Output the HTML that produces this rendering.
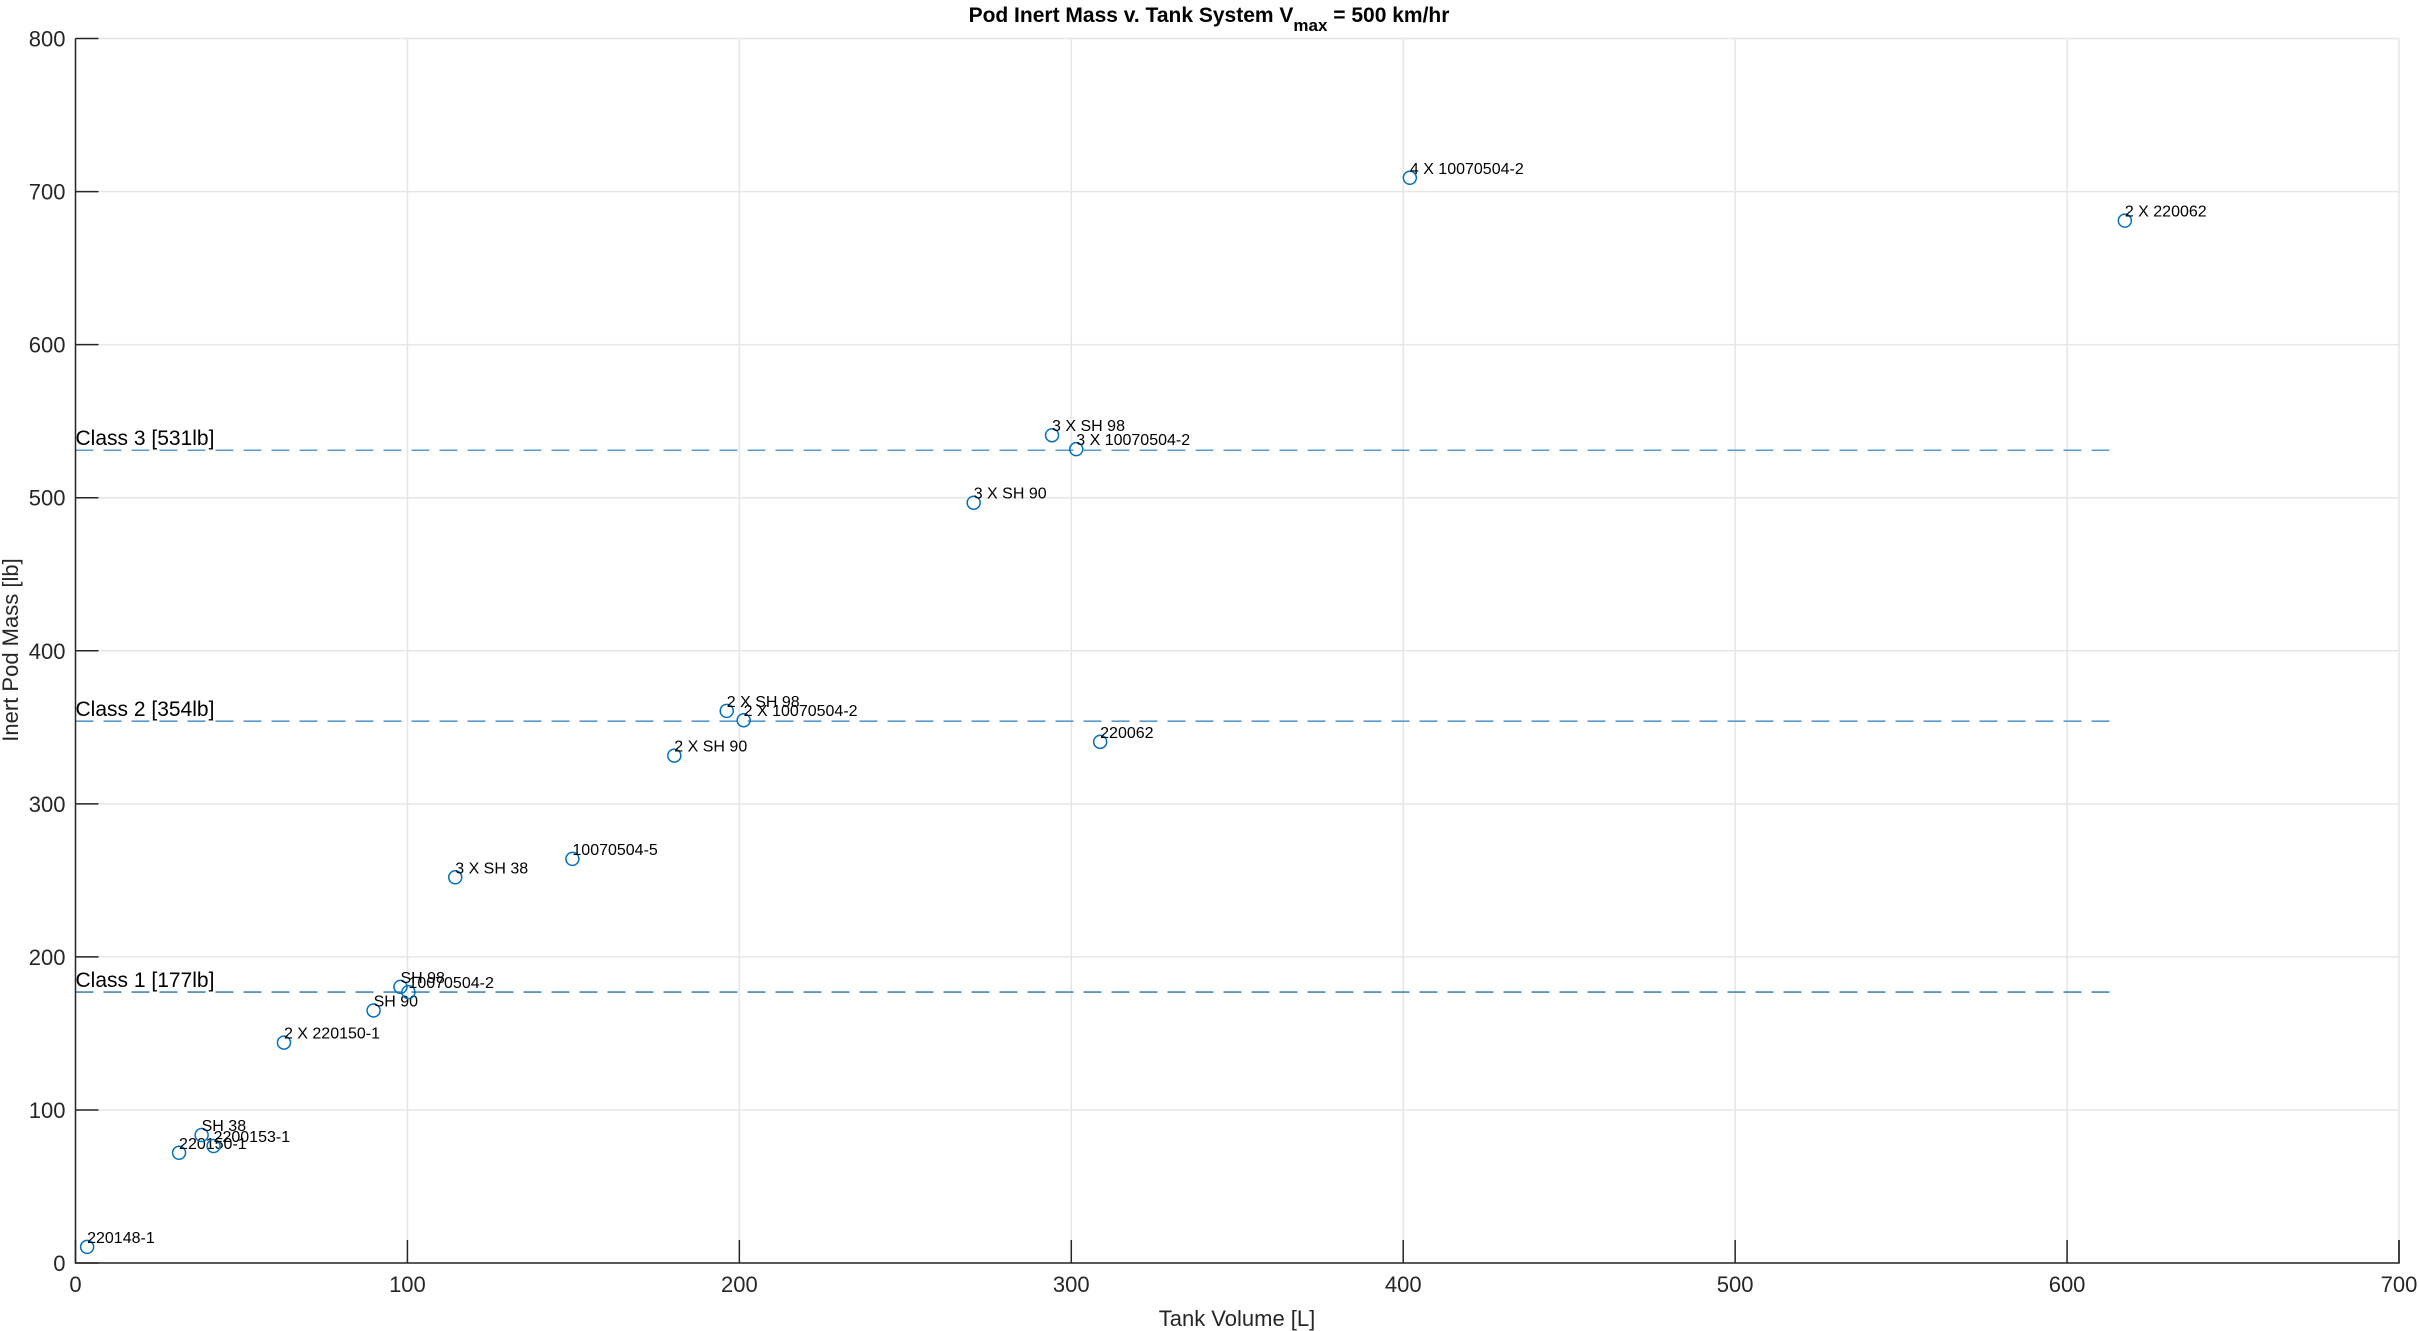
<!DOCTYPE html>
<html><head><meta charset="utf-8"><style>
html,body{margin:0;padding:0;background:#fff;}
svg{display:block;font-family:"Liberation Sans",Arial,sans-serif;}
</style></head><body>
<svg id="chart" width="2419" height="1331" viewBox="0 0 2419 1331">
<rect width="2419" height="1331" fill="#fff"/>
<g id="grid"></g>
<g id="classes"></g>
<g id="points"></g>
<g id="axes"></g>
<text x="1209" y="22" text-anchor="middle" font-size="21" font-weight="bold" fill="#000">Pod Inert Mass v. Tank System V<tspan font-size="17" dy="9">max</tspan><tspan dy="-9"> = 500 km/hr</tspan></text>
<text x="1237" y="1326" text-anchor="middle" font-size="22" fill="#262626">Tank Volume [L]</text>
<text transform="translate(18,650) rotate(-90)" text-anchor="middle" font-size="22" fill="#262626">Inert Pod Mass [lb]</text>
</svg>
<script>
const names = ["220148-1","220150-1","SH 38","2200153-1","2 X 220150-1","SH 90","SH 98","10070504-2","3 X SH 38","10070504-5","2 X SH 90","2 X SH 98","2 X 10070504-2","220062","3 X SH 90","3 X SH 98","3 X 10070504-2","4 X 10070504-2","2 X 220062"];
const volumes = [3.5,31.2,38,41.6,62.8,89.8,97.9,100.3,114.4,149.7,180.4,196.2,201.3,308.7,270.6,294.2,301.5,402,617.4];
const masses = [10.5,72,83.6,76.4,144,165,180.4,177,252,264,331.5,360.7,354.6,340.5,496.7,540.8,531.7,709,681];
const classNames = ["Class 1 [177lb]","Class 2 [354lb]","Class 3 [531lb]"];
const classValues = [177,354,531];
const classEnd = 615;
const xTicks = [0,100,200,300,400,500,600,700];
const yTicks = [0,100,200,300,400,500,600,700,800];

const NS="http://www.w3.org/2000/svg";
const L=75.5,R=2399,T=38.5,B=1263;
const xs=v=>L+(v-0)/(700-0)*(R-L);
const ys=v=>B-(v-0)/(800-0)*(B-T);
function mk(tag,attrs,parent){const e=document.createElementNS(NS,tag);for(const k in attrs)e.setAttribute(k,attrs[k]);parent.appendChild(e);return e;}
const grid=document.getElementById('grid'),axes=document.getElementById('axes'),cls=document.getElementById('classes'),pts=document.getElementById('points');
xTicks.forEach(t=>{
  const x=xs(t);
  const g=mk('line',{x1:x,x2:x,y1:T,y2:B,stroke:'#e6e6e6','stroke-width':1.5},grid);
  
  
  const tk=mk('line',{x1:x,x2:x,y1:B,y2:B-23,stroke:'#262626','stroke-width':1.5},axes);
  
  
  const lb=mk('text',{x:x,y:B+29,'text-anchor':'middle','font-size':22,fill:'#262626'},axes);
  lb.textContent=t;
  
  
});
yTicks.forEach(t=>{
  const y=ys(t);
  const g=mk('line',{x1:L,x2:R,y1:y,y2:y,stroke:'#e6e6e6','stroke-width':1.5},grid);
  
  
  const tk=mk('line',{x1:L,x2:L+23,y1:y,y2:y,stroke:'#262626','stroke-width':1.5},axes);
  
  
  const lb=mk('text',{x:L-10,y:y+8,'text-anchor':'end','font-size':22,fill:'#262626'},axes);
  lb.textContent=t;
  
  
});
const ax=mk('path',{d:`M${L},${T}V${B}H${R}V${B-23}`,fill:'none',stroke:'#262626','stroke-width':1.5},axes);


const clsColors=['#4a86b8','#5a9bd0','#5a9bd0'];
classValues.forEach((v,i)=>{
  const y=ys(v);
  const ln=mk('line',{x1:L,x2:xs(classEnd),y1:y,y2:y,stroke:clsColors[i],'stroke-width':1.6,'stroke-dasharray':'18,10'},cls);
  
  
  const tx=mk('text',{x:L,y:y-5,'font-size':21,fill:'#000'},cls);
  tx.textContent=classNames[i];
  
  
});
names.forEach((n,i)=>{
  const x=xs(volumes[i]),y=ys(masses[i]);
  const c=mk('circle',{cx:x,cy:y,r:6.5,fill:'none',stroke:'#0072BD','stroke-width':1.5},pts);
  
  
  const t=mk('text',{x:x,y:y-4,'font-size':16,fill:'#000'},pts);
  t.textContent=n;
  
  
});
</script>
</body></html>
